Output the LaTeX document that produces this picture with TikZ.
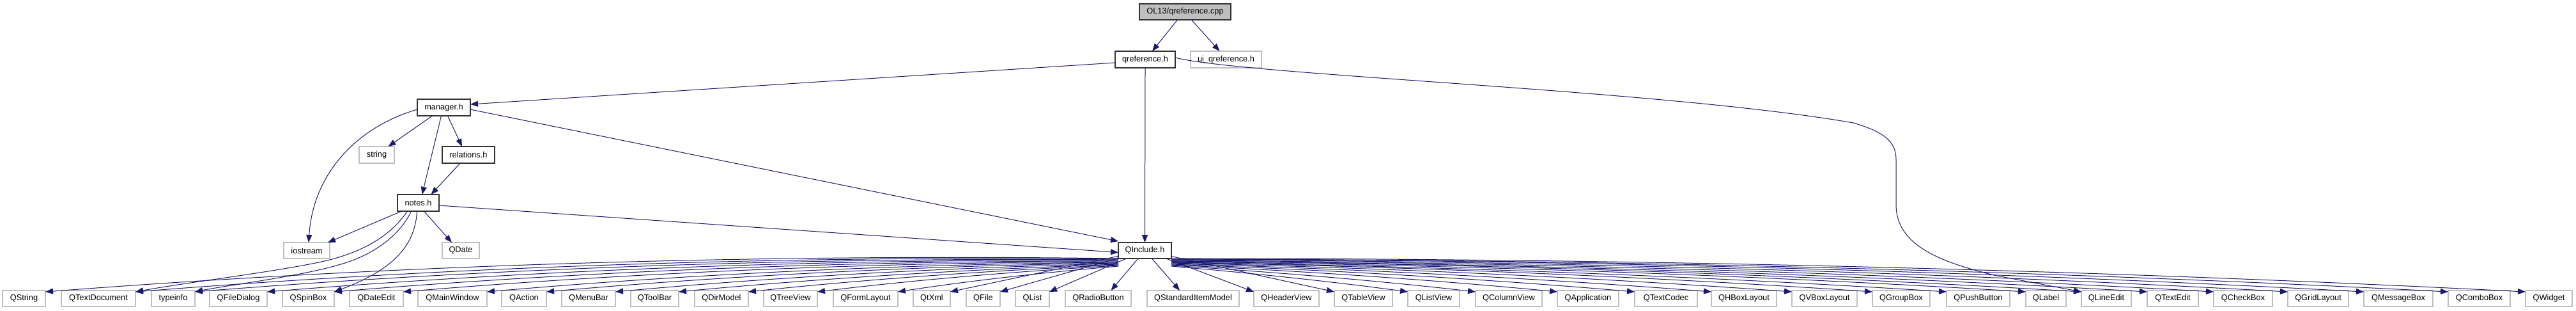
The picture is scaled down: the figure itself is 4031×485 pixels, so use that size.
\documentclass[tikz,border=0pt]{standalone}
\usepackage{fontspec}
\setmainfont{Liberation Sans}
\usetikzlibrary{arrows.meta,calc}
\definecolor{edgeblue}{HTML}{191970}
\definecolor{extgray}{HTML}{BFBFBF}
\definecolor{cppgray}{HTML}{BFBFBF}
\newcommand{\gnode}[7]{\node[#1, minimum width={#5-#4}, minimum height={#7-#6}] (#2) at ({(#4+#5)/2},{(#6+#7)/2}) {#3};}
\begin{document}
\begin{tikzpicture}[x=1pt,y=-1pt,
  gbase/.style={rectangle, inner sep=0pt, outer sep=0pt, line width=1.3pt, font=\fontsize{12.8}{14}\selectfont, text=black},
  doc/.style={gbase, draw=black!80, fill=white},
  ext/.style={gbase, draw=extgray, fill=white},
  edge/.style={draw=edgeblue, line width=1pt, -{Triangle[length=12pt,width=9pt]}, fill=none}]
\useasboundingbox (0,0) rectangle (4031,485);
\fill[white] (0,0) rectangle (4031,485);

% upper nodes
\gnode{doc,fill=cppgray}{cpp}{OL13/qreference.cpp}{1783}{1926}{6}{31}
\gnode{doc}{qref}{qreference.h}{1745}{1839}{80}{106}
\gnode{ext}{uiqref}{ui\_qreference.h}{1863}{1974}{80}{106}
\gnode{doc}{manager}{manager.h}{653}{736}{155}{181}
\gnode{ext}{string}{string}{562}{617}{229}{255}
\gnode{doc}{relations}{relations.h}{692}{774}{229}{255}
\gnode{doc}{notes}{notes.h}{622}{687}{304}{330}
\gnode{ext}{iostream}{iostream}{444}{516}{379}{404}
\gnode{ext}{QDate}{QDate}{692}{750}{379}{404}
\gnode{doc}{QInclude}{QInclude.h}{1750}{1833}{379}{404}

% bottom row
\foreach \n/\l/\r in {QString/4/71, QTextDocument/96/212, typeinfo/237/305, QFileDialog/328/418,
  QSpinBox/442/523, QDateEdit/547/631, QMainWindow/654/762, QAction/785/855, QMenuBar/879/963,
  QToolBar/987/1062, QDirModel/1087/1171, QTreeView/1195/1279, QFormLayout/1304/1405,
  QtXml/1429/1487, QFile/1512/1565, QList/1589/1642, QRadioButton/1667/1770,
  QStandardItemModel/1795/1939, QHeaderView/1962/2064, QTableView/2088/2179,
  QListView/2203/2284, QColumnView/2309/2413, QApplication/2437/2533, QTextCodec/2558/2656,
  QHBoxLayout/2678/2780, QVBoxLayout/2804/2906, QGroupBox/2930/3020, QPushButton/3046/3145,
  QLabel/3170/3233, QLineEdit/3257/3335, QTextEdit/3360/3440, QCheckBox/3464/3556,
  QGridLayout/3580/3675, QMessageBox/3699/3807, QComboBox/3831/3928, QWidget/3952/4025}
  {\gnode{ext}{\n}{\n}{\l}{\r}{454}{479}}

% edges from cpp
\draw[edge] ([xshift=-12pt]cpp.south) -- ([xshift=11pt]qref.north);
\draw[edge] ([xshift=10pt]cpp.south) -- ([xshift=-10pt]uiqref.north);

% qreference.h
\draw[edge] ([yshift=-5pt]qref.west) -- ([yshift=5pt]manager.east);
\draw[edge] (qref.south) -- (QInclude.north);
\draw[edge] ([yshift=3pt]qref.east) .. controls (1950,118) and (2600,140) .. (2900,192)
  .. controls (2955,208) and (2967,225) .. (2967,250) -- (2967,320)
  .. controls (2967,385) and (3040,410) .. (3120,430) -- ([yshift=-2pt]QLineEdit.north west);

% manager.h
\draw[edge] ([xshift=-18pt]manager.south) -- ([xshift=18pt]string.north);
\draw[edge] ([xshift=6pt]manager.south) -- ([xshift=-10pt]relations.north);
\draw[edge] ([xshift=-4pt]manager.south) -- ([xshift=6pt]notes.north);
\draw[edge] ([yshift=-3pt]manager.west) .. controls (560,198) and (490,270) .. ([xshift=3pt]iostream.north);
\draw[edge] ([yshift=-3pt]manager.east) -- ([yshift=2pt]QInclude.north west);

% relations.h
\draw[edge] ([xshift=-13pt]relations.south) -- ([xshift=20pt]notes.north);

% notes.h
\draw[edge] ([xshift=-26pt]notes.south) -- ([xshift=-3pt]iostream.north east);
\draw[edge] ([xshift=9pt]notes.south) -- ([xshift=-14pt]QDate.north);
\draw[edge] ([yshift=-4pt]notes.east) -- ([yshift=-3pt]QInclude.west);
\draw[edge] ([xshift=-17pt]notes.south) .. controls (610,370) and (570,390) .. (527,403)
  .. controls (470,420) and (300,440) .. ([yshift=-2pt]QTextDocument.north east);
\draw[edge] ([xshift=-11pt]notes.south) .. controls (625,370) and (580,400) .. (533,413)
  .. controls (470,432) and (360,445) .. ([yshift=-2pt]typeinfo.north east);
\draw[edge] ([xshift=-2pt]notes.south) .. controls (650,380) and (620,420) .. ([yshift=-2pt]QSpinBox.north east);

% QInclude.h fan, left side
\foreach \n/\s/\o in {QString/24/0, QTextDocument/22/1, typeinfo/20/2, QFileDialog/18/3, QSpinBox/16/4,
  QDateEdit/14/5, QMainWindow/12/6, QAction/10/7, QMenuBar/8/8, QToolBar/6/9, QDirModel/5/10,
  QTreeView/4/11, QFormLayout/3/12}
  {\draw[edge] ([yshift=-\o pt]QInclude.south west) .. controls ($([yshift=-\o pt]QInclude.south west)!0.33!(\n.north east)+(0,-\s)$)
     and ($([yshift=-\o pt]QInclude.south west)!0.67!(\n.north east)+(0,-\s)$) .. ([yshift=-2pt]\n.north east);}
\foreach \n in {QtXml, QFile, QList}
  {\draw[edge] (QInclude) -- ([yshift=-2pt]\n.north east);}
\draw[edge] (QInclude) -- ([xshift=20pt]QRadioButton.north);
\draw[edge] (QInclude) -- ([xshift=-21pt]QStandardItemModel.north);
% QInclude.h fan, right side
\foreach \n in {QHeaderView, QTableView}
  {\draw[edge] (QInclude) -- ([yshift=-2pt]\n.north west);}
\foreach \n/\s/\o in {QListView/2/12, QColumnView/3/11, QApplication/4/10, QTextCodec/5/9,
  QHBoxLayout/6/8, QVBoxLayout/7/7, QGroupBox/8/6, QPushButton/9/6, QLabel/10/5, QLineEdit/11/4,
  QTextEdit/12/4, QCheckBox/13/3, QGridLayout/14/2, QMessageBox/15/1, QComboBox/16/1, QWidget/17/0}
  {\draw[edge] ([yshift=-\o pt]QInclude.south east) .. controls ($([yshift=-\o pt]QInclude.south east)!0.33!(\n.north west)+(0,-\s)$)
     and ($([yshift=-\o pt]QInclude.south east)!0.67!(\n.north west)+(0,-\s)$) .. ([yshift=-2pt]\n.north west);}
\end{tikzpicture}
\end{document}
